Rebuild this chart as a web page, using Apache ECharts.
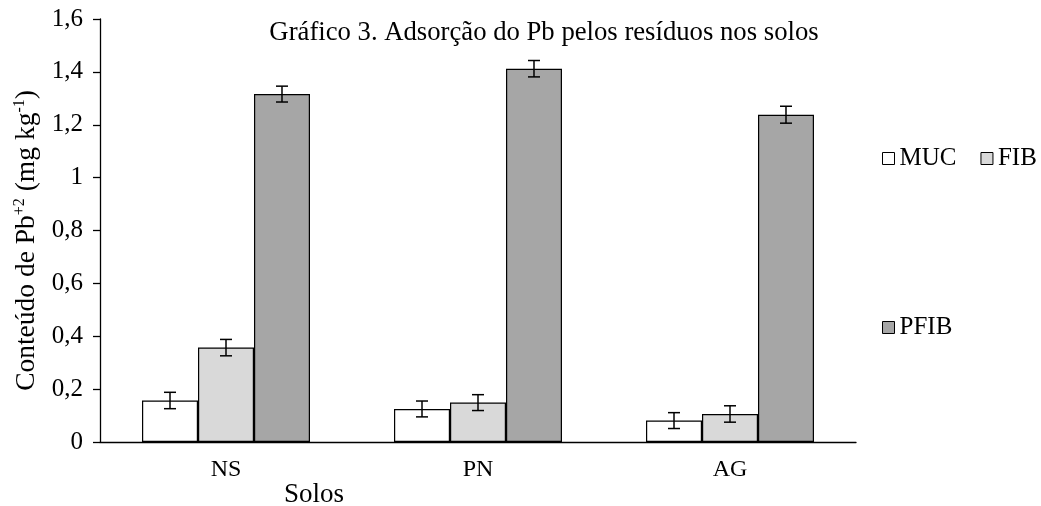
<!DOCTYPE html>
<html>
<head>
<meta charset="utf-8">
<script src="https://cdn.jsdelivr.net/npm/echarts@6/dist/echarts.min.js"></script>
<style>html,body{margin:0;padding:0;background:#fff;}#c{width:1041px;height:506px;}</style>
</head>
<body>
<div id="c"></div>
<script>
const categories = ['NS', 'PN', 'AG'];
const seriesNames = ['MUC', 'FIB', 'PFIB'];
const mucValues = [0.157, 0.125, 0.081];
const fibValues = [0.357, 0.149, 0.106];
const pfibValues = [1.316, 1.412, 1.238];
const mucErrors = [0.031, 0.030, 0.030];
const fibErrors = [0.031, 0.030, 0.031];
const pfibErrors = [0.030, 0.031, 0.032];
const yTicks = [0, 0.2, 0.4, 0.6, 0.8, 1, 1.2, 1.4, 1.6];

const FONT = '"Liberation Serif", "Times New Roman", serif';
const colors = ['#ffffff', '#d9d9d9', '#a6a6a6'];
const values = [mucValues, fibValues, pfibValues];
const errors = [mucErrors, fibErrors, pfibErrors];
const BAR_FRAC = 0.2222;

const chart = echarts.init(document.getElementById('c'));

const barSeries = seriesNames.map((name, i) => ({
  name: name,
  type: 'bar',
  data: values[i],
  barWidth: (BAR_FRAC * 100) + '%',
  barGap: '0%',
  itemStyle: { color: colors[i], borderColor: '#000', borderWidth: 1.2 },
  emphasis: { disabled: true },
  animation: false
}));

const errSeries = seriesNames.map((name, si) => ({
  type: 'custom',
  name: name + '_err',
  data: values[si].map((v, k) => [k, v, errors[si][k]]),
  z: 10,
  silent: true,
  animation: false,
  renderItem: function (params, api) {
    const k = api.value(0);
    const v = api.value(1);
    const e = api.value(2);
    const band = api.size([1, 0])[0];
    const bw = band * BAR_FRAC;
    const center = api.coord([k, v]);
    const x = center[0] + (si - 1) * bw;
    const top = api.coord([k, v + e])[1];
    const bot = api.coord([k, v - e])[1];
    const cap = 6;
    const st = { stroke: '#000', lineWidth: 1.5 };
    return {
      type: 'group',
      children: [
        { type: 'line', shape: { x1: x, y1: top, x2: x, y2: bot }, style: st },
        { type: 'line', shape: { x1: x - cap, y1: top, x2: x + cap, y2: top }, style: st },
        { type: 'line', shape: { x1: x - cap, y1: bot, x2: x + cap, y2: bot }, style: st }
      ]
    };
  }
}));

const legendText = { fontFamily: FONT, fontSize: 25, color: '#000' };

chart.setOption({
  backgroundColor: '#fff',
  animation: false,
  title: {
    text: 'Gráfico 3. Adsorção do Pb pelos resíduos nos solos',
    left: 539,
    textAlign: 'center',
    top: 14,
    textStyle: { fontFamily: FONT, fontSize: 26.7, fontWeight: 'normal', color: '#000' }
  },
  legend: [
    {
      data: ['MUC', 'FIB'],
      orient: 'horizontal',
      left: 882,
      top: 146,
      width: 200,
      padding: 0,
      icon: 'rect',
      itemWidth: 12,
      itemHeight: 12,
      itemGap: 24,
      itemStyle: { borderColor: '#000', borderWidth: 1 },
      textStyle: legendText,
      selectedMode: false
    },
    {
      data: ['PFIB'],
      left: 882,
      top: 315,
      width: 200,
      padding: 0,
      icon: 'rect',
      itemWidth: 12,
      itemHeight: 12,
      itemStyle: { borderColor: '#000', borderWidth: 1 },
      textStyle: legendText,
      selectedMode: false
    }
  ],
  grid: { left: 100, top: 19, width: 756, height: 423, containLabel: false },
  xAxis: {
    type: 'category',
    data: categories,
    axisLine: { lineStyle: { color: '#000', width: 1.3 } },
    axisTick: { show: false },
    axisLabel: { fontFamily: FONT, fontSize: 24, color: '#000', margin: 16 },
    splitLine: { show: false }
  },
  yAxis: {
    type: 'value',
    min: 0,
    max: 1.6,
    interval: 0.2,
    axisLine: { show: true, lineStyle: { color: '#000', width: 1.3 } },
    axisTick: { show: true, length: 7, lineStyle: { color: '#000', width: 1.3 } },
    splitLine: { show: false },
    axisLabel: {
      fontFamily: FONT, fontSize: 25, color: '#000', margin: 17,
      formatter: function (v) {
        const t = yTicks.find(y => Math.abs(y - v) < 1e-6);
        return String(Number((t !== undefined ? t : v).toFixed(1))).replace('.', ',');
      }
    },
    name: 'Conteúdo de Pb{sup|+2} (mg kg{sup|-1})',
    nameLocation: 'middle',
    nameGap: 57,
    nameTextStyle: {
      fontFamily: FONT, fontSize: 27.5, color: '#000', lineHeight: 29,
      padding: [0, 20, 0, 0],
      rich: {
        sup: { fontFamily: FONT, fontSize: 16, lineHeight: 16, verticalAlign: 'top', color: '#000' }
      }
    }
  },
  graphic: [
    {
      type: 'text',
      left: 284,
      top: 481,
      style: { text: 'Solos', fontFamily: FONT, fontSize: 27, fill: '#000' }
    }
  ],
  series: barSeries.concat(errSeries)
});
</script>
</body>
</html>
